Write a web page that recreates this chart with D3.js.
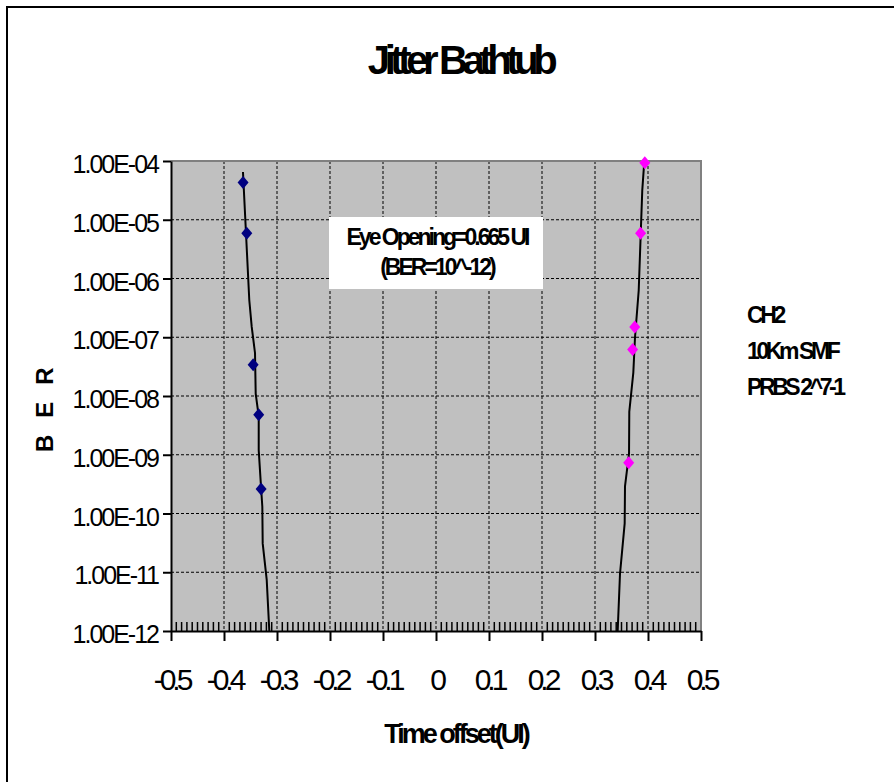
<!DOCTYPE html>
<html>
<head>
<meta charset="utf-8">
<script src="https://cdn.jsdelivr.net/npm/d3@7"></script>
<style>
  html, body { margin: 0; padding: 0; background: #fff; }
  svg { display: block; font-family: "Liberation Sans", Arial, sans-serif; }
</style>
</head>
<body>
<svg id="chart" width="894" height="782"></svg>
<script>
// ---- data ----
const chartTitle = "Jitter Bathtub";
const xTickValues = [-0.5, -0.4, -0.3, -0.2, -0.1, 0, 0.1, 0.2, 0.3, 0.4, 0.5];
const xTickLabels = ["-0.5", "-0.4", "-0.3", "-0.2", "-0.1", "0", "0.1", "0.2", "0.3", "0.4", "0.5"];
const yTickValues = [1e-4, 1e-5, 1e-6, 1e-7, 1e-8, 1e-9, 1e-10, 1e-11, 1e-12];
const yTickLabels = ["1.00E-04", "1.00E-05", "1.00E-06", "1.00E-07", "1.00E-08", "1.00E-09", "1.00E-10", "1.00E-11", "1.00E-12"];

// measured points (left edge, navy)
const leftPointX   = [-0.364, -0.357, -0.345, -0.3345, -0.330];
const leftPointBER = [4.3e-5, 5.9e-6, 3.4e-8, 4.8e-9, 2.6e-10];
// measured points (right edge, magenta)
const rightPointX   = [0.394, 0.386, 0.375, 0.371, 0.3636];
const rightPointBER = [9.3e-5, 5.9e-6, 1.5e-7, 6.2e-8, 7.3e-10];

// fitted curves
const leftCurveX   = [-0.3642, -0.3585, -0.3523, -0.3477, -0.3415, -0.3402, -0.3345, -0.3345, -0.3302, -0.3277, -0.3270, -0.3194, -0.3145];
const leftCurveBER = [6.5e-5, 5.9e-6, 4.3e-7, 1.5e-7, 5.4e-8, 1.1e-8, 4.5e-9, 1.2e-9, 2.9e-10, 1.3e-10, 3.1e-11, 7.4e-12, 1.0e-12];
const rightCurveX   = [0.3930, 0.3892, 0.3825, 0.3755, 0.3723, 0.3647, 0.3642, 0.3566, 0.3560, 0.3472, 0.3428];
const rightCurveBER = [9.8e-5, 3.2e-5, 6.3e-7, 1.0e-7, 2.5e-8, 5.4e-9, 1.05e-9, 2.9e-10, 6.8e-11, 9.5e-12, 1.0e-12];

const annotationLines = ["Eye Opening=0.665 UI", "(BER=10^-12)"];
const legendLines = ["CH2", "10Km SMF", "PRBS 2^7-1"];
const xAxisTitle = "Time offset(UI)";
const yAxisTitle = "BER";

// ---- layout ----
const svg = d3.select("#chart");
const plot = { left: 171, right: 701, top: 161, bottom: 631 };

const x = d3.scaleLinear().domain([-0.5, 0.5]).range([plot.left, plot.right]);
const y = d3.scaleLog().domain([1e-12, 1e-4]).range([plot.bottom, plot.top]);

// outer chart border (only left & top visible)
svg.append("path")
  .attr("d", "M7,782 L7,7 L894,7")
  .attr("fill", "none").attr("stroke", "#000").attr("stroke-width", 2);

// title
svg.append("text")
  .attr("x", 460).attr("y", 74)
  .attr("text-anchor", "middle")
  .attr("font-size", 40).attr("font-weight", "bold")
  .attr("letter-spacing", "-5.4px")
  .text(chartTitle);

// plot background
svg.append("rect")
  .attr("x", plot.left).attr("y", plot.top)
  .attr("width", plot.right - plot.left).attr("height", plot.bottom - plot.top)
  .attr("fill", "#C0C0C0");

// gridlines
const grid = svg.append("g");
grid.selectAll(".hg").data(yTickValues.slice(1, -1)).join("line")
  .attr("x1", plot.left).attr("x2", plot.right)
  .attr("y1", d => y(d)).attr("y2", d => y(d))
  .attr("stroke", "#000").attr("stroke-width", 1).attr("stroke-dasharray", "3,2");
grid.selectAll(".vg").data(xTickValues.slice(1, -1)).join("line")
  .attr("x1", d => x(d)).attr("x2", d => x(d))
  .attr("y1", plot.top).attr("y2", plot.bottom)
  .attr("stroke", "#000").attr("stroke-width", 1).attr("stroke-dasharray", "3,2");

// plot border top & right (gray)
svg.append("path")
  .attr("d", `M${plot.left},${plot.top} L${plot.right},${plot.top} L${plot.right},${plot.bottom}`)
  .attr("fill", "none").attr("stroke", "#808080").attr("stroke-width", 2);

// minor inside ticks on x axis
const minorTicks = d3.range(-50, 51).map(i => i / 100).filter(v => Math.abs(Math.round(v * 10) - v * 10) > 1e-6);
svg.append("g").selectAll("line").data(minorTicks).join("line")
  .attr("x1", d => x(d)).attr("x2", d => x(d))
  .attr("y1", plot.bottom - 9).attr("y2", plot.bottom)
  .attr("stroke", "#000").attr("stroke-width", 1.5);

// x axis
const xAxis = d3.axisBottom(x).tickValues(xTickValues)
  .tickFormat((d, i) => xTickLabels[i]).tickSizeInner(10).tickSizeOuter(0).tickPadding(26);
const gx = svg.append("g").attr("transform", `translate(0,${plot.bottom})`).call(xAxis);
gx.select(".domain").attr("stroke", "#000").attr("stroke-width", 2);
gx.selectAll(".tick line").attr("stroke", "#000").attr("stroke-width", 2);
gx.selectAll(".tick text")
  .attr("font-family", "'Liberation Sans', Arial, sans-serif")
  .attr("font-size", 30).attr("fill", "#000")
  .attr("letter-spacing", "-4px")
  .attr("dy", 0).attr("y", 59);

// y axis
const yAxis = d3.axisLeft(y).tickValues(yTickValues)
  .tickFormat((d, i) => yTickLabels[i]).tickSizeInner(8).tickSizeOuter(0).tickPadding(6);
const gy = svg.append("g").attr("transform", `translate(${plot.left},0)`).call(yAxis);
gy.select(".domain").attr("stroke", "#000").attr("stroke-width", 2);
gy.selectAll(".tick line").attr("stroke", "#000").attr("stroke-width", 2);
gy.selectAll(".tick text")
  .attr("font-family", "'Liberation Sans', Arial, sans-serif")
  .attr("font-size", 25).attr("fill", "#000")
  .attr("letter-spacing", "-2px")
  .attr("dy", 0).attr("y", 11.5).attr("x", -13);

// curves
const line = d3.line().x(d => x(d[0])).y(d => y(d[1]));
const leftCurve = leftCurveX.map((v, i) => [v, leftCurveBER[i]]);
const rightCurve = rightCurveX.map((v, i) => [v, rightCurveBER[i]]);
[leftCurve, rightCurve].forEach(c => {
  svg.append("path").datum(c).attr("d", line)
    .attr("fill", "none").attr("stroke", "#000").attr("stroke-width", 2);
});

// markers
const diamond = "M0,-6.5L5.5,0L0,6.5L-5.5,0Z";
const leftPts = leftPointX.map((v, i) => [v, leftPointBER[i]]);
const rightPts = rightPointX.map((v, i) => [v, rightPointBER[i]]);
svg.append("g").selectAll("path").data(leftPts).join("path")
  .attr("d", diamond).attr("transform", d => `translate(${x(d[0])},${y(d[1])})`)
  .attr("fill", "#000080");
svg.append("g").selectAll("path").data(rightPts).join("path")
  .attr("d", diamond).attr("transform", d => `translate(${x(d[0])},${y(d[1])})`)
  .attr("fill", "#FF00FF");

// annotation box
svg.append("rect")
  .attr("x", 329).attr("y", 217).attr("width", 214).attr("height", 72)
  .attr("fill", "#fff");
svg.append("g").selectAll("text").data(annotationLines).join("text")
  .attr("x", 437).attr("y", (d, i) => 245 + i * 30)
  .attr("text-anchor", "middle")
  .attr("font-size", 23).attr("font-weight", "bold")
  .attr("letter-spacing", "-3px")
  .text(d => d);

// legend-like text on right
svg.append("g").selectAll("text").data(legendLines).join("text")
  .attr("x", 747).attr("y", (d, i) => 323 + i * 36)
  .attr("font-size", 23).attr("font-weight", "bold")
  .attr("letter-spacing", "-3.4px")
  .text(d => d);

// axis titles
svg.append("text")
  .attr("x", 456).attr("y", 743)
  .attr("text-anchor", "middle")
  .attr("font-size", 27).attr("font-weight", "bold")
  .attr("letter-spacing", "-3px")
  .text(xAxisTitle);

svg.append("text")
  .attr("transform", "translate(53,452) rotate(-90)")
  .attr("x", 0).attr("y", 0)
  .attr("font-size", 24).attr("font-weight", "bold")
  .attr("letter-spacing", "17px")
  .text(yAxisTitle);
</script>
</body>
</html>
